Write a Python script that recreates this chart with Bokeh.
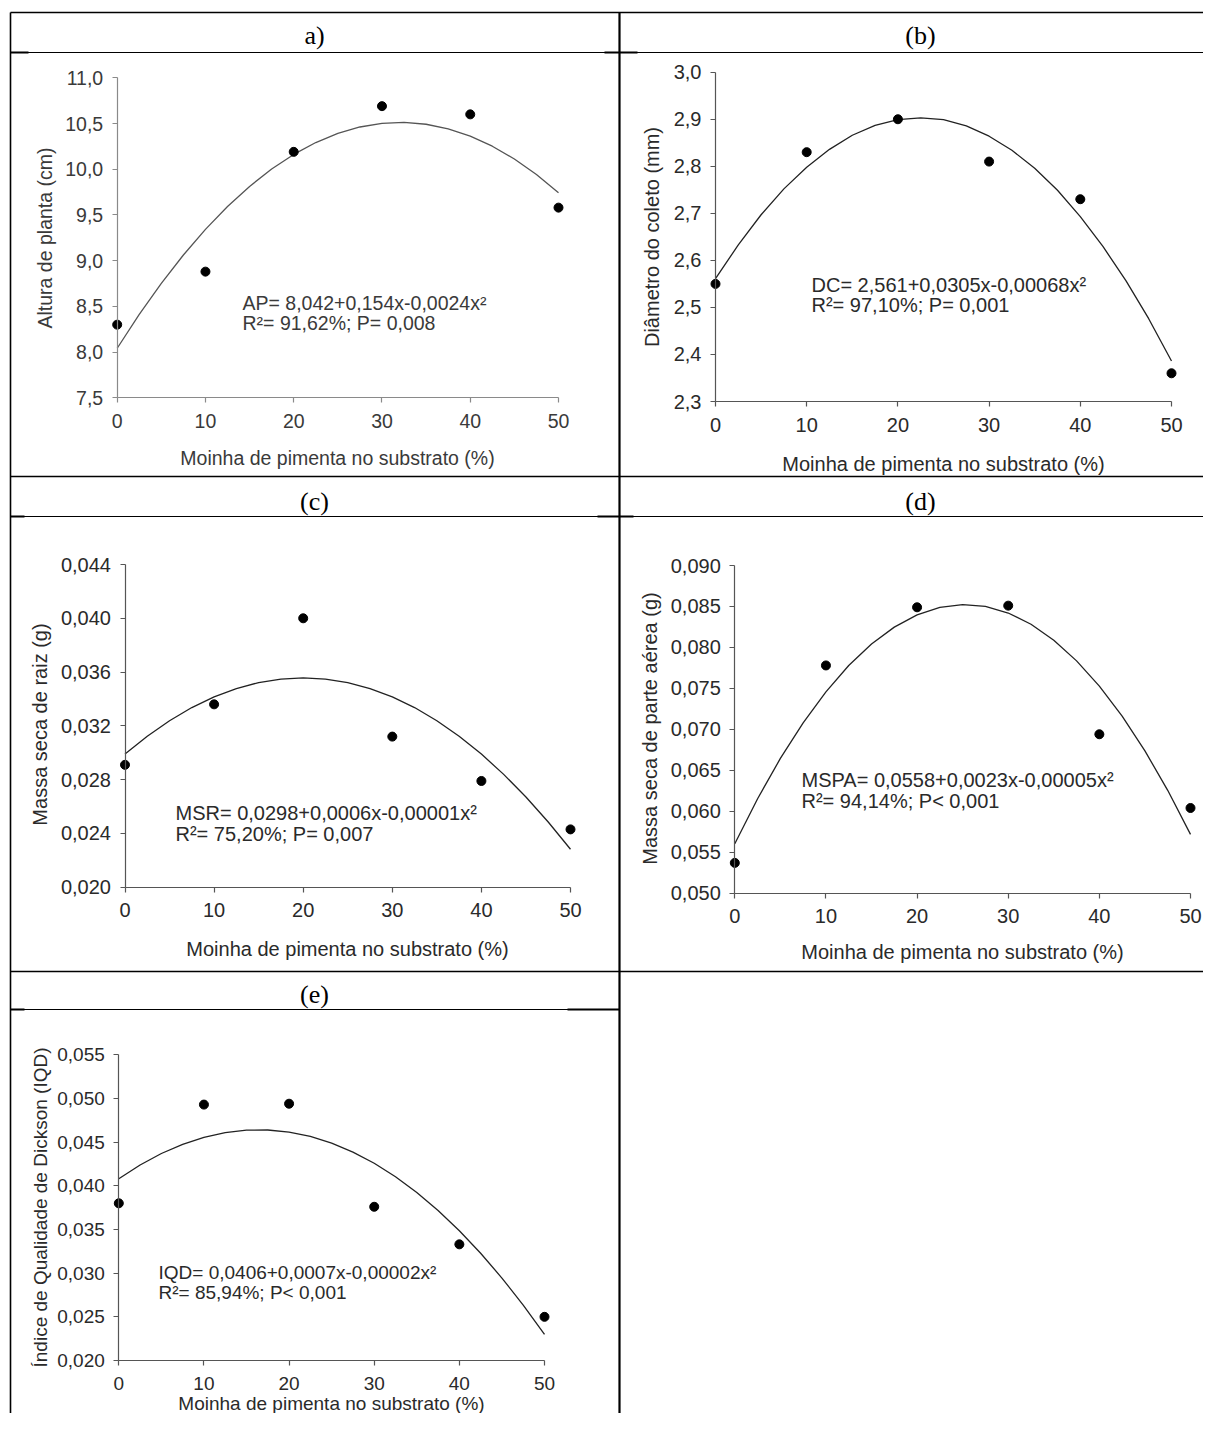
from math import pi
from bokeh.plotting import figure
from bokeh.models import Range1d, LinearAxis, FixedTicker, Label
from bokeh.embed import file_html
from bokeh.resources import INLINE

# ---------------- data ----------------
dose = [0, 10, 20, 30, 40, 50]
curve_x = [0, 2.5, 5, 7.5, 10, 12.5, 15, 17.5, 20, 22.5, 25, 27.5, 30,
           32.5, 35, 37.5, 40, 42.5, 45, 47.5, 50]
x_ticks = [0, 10, 20, 30, 40, 50]
x_tick_labels = ["0", "10", "20", "30", "40", "50"]

ap_obs = [8.30, 8.88, 10.19, 10.69, 10.60, 9.58]
ap_fit = [8.042, 8.412, 8.752, 9.062, 9.342, 9.592, 9.812, 10.002, 10.162, 10.292,
          10.392, 10.462, 10.502, 10.512, 10.492, 10.442, 10.362, 10.252, 10.112, 9.942, 9.742]
ap_ticks = [7.5, 8.0, 8.5, 9.0, 9.5, 10.0, 10.5, 11.0]
ap_tick_labels = ["7,5", "8,0", "8,5", "9,0", "9,5", "10,0", "10,5", "11,0"]

dc_obs = [2.55, 2.83, 2.90, 2.81, 2.73, 2.36]
dc_fit = [2.561, 2.633, 2.697, 2.752, 2.798, 2.836, 2.866, 2.887, 2.899, 2.903, 2.899,
          2.886, 2.864, 2.834, 2.796, 2.749, 2.693, 2.629, 2.557, 2.476, 2.386]
dc_ticks = [2.3, 2.4, 2.5, 2.6, 2.7, 2.8, 2.9, 3.0]
dc_tick_labels = ["2,3", "2,4", "2,5", "2,6", "2,7", "2,8", "2,9", "3,0"]

msr_obs = [0.0291, 0.0336, 0.0400, 0.0312, 0.0279, 0.0243]
msr_fit = [0.02990, 0.03123, 0.03238, 0.03336, 0.03415, 0.03477, 0.03522, 0.03548,
           0.03557, 0.03548, 0.03522, 0.03477, 0.03415, 0.03336, 0.03238, 0.03123,
           0.02990, 0.02839, 0.02671, 0.02485, 0.02282]
msr_ticks = [0.020, 0.024, 0.028, 0.032, 0.036, 0.040, 0.044]
msr_tick_labels = ["0,020", "0,024", "0,028", "0,032", "0,036", "0,040", "0,044"]

mspa_obs = [0.0537, 0.0778, 0.0849, 0.0851, 0.0694, 0.0604]
mspa_fit = [0.05603, 0.06153, 0.06645, 0.07080, 0.07458, 0.07779, 0.08042, 0.08248,
            0.08397, 0.08489, 0.08523, 0.08500, 0.08420, 0.08283, 0.08088, 0.07836,
            0.07527, 0.07161, 0.06737, 0.06256, 0.05718]
mspa_ticks = [0.050, 0.055, 0.060, 0.065, 0.070, 0.075, 0.080, 0.085, 0.090]
mspa_tick_labels = ["0,050", "0,055", "0,060", "0,065", "0,070", "0,075", "0,080", "0,085", "0,090"]

iqd_obs = [0.0380, 0.0493, 0.0494, 0.0376, 0.0333, 0.0250]
iqd_fit = [0.04080, 0.04238, 0.04370, 0.04475, 0.04555, 0.04609, 0.04637, 0.04639,
           0.04615, 0.04565, 0.04488, 0.04386, 0.04258, 0.04104, 0.03924, 0.03718,
           0.03486, 0.03228, 0.02944, 0.02634, 0.02299]
iqd_ticks = [0.020, 0.025, 0.030, 0.035, 0.040, 0.045, 0.050, 0.055]
iqd_tick_labels = ["0,020", "0,025", "0,030", "0,035", "0,040", "0,045", "0,050", "0,055"]

x_title = "Moinha de pimenta no substrato (%)"

# ---------------- canvas ----------------
W, H = 1203, 1413
OX, OY = 0, 0   # canvas origin in picture coordinates

p = figure(width=W, height=H, x_range=Range1d(OX, OX + W), y_range=Range1d(OY + H, OY),
           output_backend="svg", toolbar_location=None, tools="", min_border=0,
           x_axis_location=None, y_axis_location=None)
p.xgrid.visible = False
p.ygrid.visible = False
p.outline_line_color = None
p.background_fill_color = "white"
p.border_fill_color = "white"

# table rules (layout)
R = OX + W
B = OY + H
rules = [
    (10, 12, R, 12, 1.6), (10, 12, 10, B, 1.6), (619, 12, 619, B, 2.2),
    (10, 52, R, 52, 1.1), (10, 476, R, 476, 1.6), (10, 516, R, 516, 1.1),
    (10, 971, R, 971, 1.6), (10, 1009, 619, 1009, 1.1),
    (10, 52, 28, 52, 2.2), (604, 52, 637, 52, 2.2), (597, 516, 633, 516, 2.2),
    (10, 516, 24, 516, 2.2), (10, 1009, 24, 1009, 2.2), (567, 1009, 619, 1009, 2.2),
]
p.segment(x0=[r[0] for r in rules], y0=[r[1] for r in rules],
          x1=[r[2] for r in rules], y1=[r[3] for r in rules],
          line_width=[r[4] for r in rules], line_color="black")

for txt, cx, by in [("a)", 314, 35), ("(b)", 920, 35), ("(c)", 314, 501),
                    ("(d)", 920, 501), ("(e)", 314, 994)]:
    p.add_layout(Label(x=cx, y=by, text=txt, text_font="Liberation Serif",
                       text_font_size="26px", text_color="black",
                       text_align="center", text_baseline="alphabetic"))


def rng(d0, d1, q0, q1, lo, hi):
    s = (d1 - d0) / (q1 - q0)
    return Range1d(d0 + (lo - q0) * s, d0 + (hi - q0) * s)


def panel(key, obs, fit, yticks, ylabels, xpx, ypx, ytitle, ytitle_pos, xtitle_pos,
          eq, eq_pos, fs, axis_color, curve_color, text_color):
    # xpx: picture x of dose 0 and 50; ypx: picture y of first and last y tick
    xr, yr = "x" + key, "y" + key
    p.extra_x_ranges[xr] = rng(x_ticks[0], x_ticks[-1], xpx[0], xpx[1], OX, OX + W)
    p.extra_y_ranges[yr] = rng(yticks[0], yticks[-1], ypx[0], ypx[1], OY + H, OY)

    common = dict(x_range_name=xr, y_range_name=yr, axis_line_color=axis_color,
                  major_tick_line_color=axis_color, major_tick_in=0, major_tick_out=5,
                  minor_tick_line_color=None, major_label_text_font="Liberation Sans",
                  major_label_text_font_size=fs, major_label_text_color=text_color,
                  axis_line_width=1.2, major_tick_line_width=1.2)
    xa = LinearAxis(fixed_location=yticks[0], bounds=(x_ticks[0], x_ticks[-1]),
                    ticker=FixedTicker(ticks=x_ticks, minor_ticks=[]),
                    major_label_overrides=dict(zip(x_ticks, x_tick_labels)),
                    major_label_standoff=11, **common)
    ya = LinearAxis(fixed_location=x_ticks[0], bounds=(yticks[0], yticks[-1]),
                    ticker=FixedTicker(ticks=yticks, minor_ticks=[]),
                    major_label_overrides=dict(zip(yticks, ylabels)),
                    major_label_standoff=9, **common)
    p.add_layout(xa, "below")
    p.add_layout(ya, "left")

    p.line(curve_x, fit, x_range_name=xr, y_range_name=yr, line_color=curve_color, line_width=1.3)
    p.scatter(dose, obs, x_range_name=xr, y_range_name=yr, size=9, color="black")

    p.add_layout(Label(x=ytitle_pos[0], y=ytitle_pos[1], text=ytitle, angle=pi / 2,
                       text_font="Liberation Sans", text_font_size=fs, text_color=text_color,
                       text_align="center", text_baseline="middle"))
    p.add_layout(Label(x=xtitle_pos[0], y=xtitle_pos[1], text=x_title,
                       text_font="Liberation Sans", text_font_size=fs, text_color=text_color,
                       text_align="center", text_baseline="middle"))
    for i, line in enumerate(eq):
        p.add_layout(Label(x=eq_pos[0], y=eq_pos[1] + i * eq_pos[2], text=line,
                           text_font="Liberation Sans", text_font_size=fs, text_color=text_color,
                           text_align="left", text_baseline="middle"))


panel("a", ap_obs, ap_fit, ap_ticks, ap_tick_labels, (116.7, 558), (397.3, 77.3),
      "Altura de planta (cm)", (44, 237.5), (337, 457),
      ["AP= 8,042+0,154x-0,0024x²", "R²= 91,62%; P= 0,008"], (242, 302, 20),
      "19.5px", "#8a8a8a", "#555555", "#3a3a3a")
panel("b", dc_obs, dc_fit, dc_ticks, dc_tick_labels, (715, 1171), (401, 71.7),
      "Diâmetro do coleto (mm)", (651.7, 236.5), (943, 463),
      ["DC= 2,561+0,0305x-0,00068x²", "R²= 97,10%; P= 0,001"], (811, 284, 20),
      "20px", "#555555", "#222222", "#2a2a2a")
panel("c", msr_obs, msr_fit, msr_ticks, msr_tick_labels, (124.5, 570), (886.7, 564),
      "Massa seca de raiz (g)", (39.5, 724), (347, 948),
      ["MSR= 0,0298+0,0006x-0,00001x²", "R²= 75,20%; P= 0,007"], (175, 812, 21.5),
      "20px", "#555555", "#222222", "#2a2a2a")
panel("d", mspa_obs, mspa_fit, mspa_ticks, mspa_tick_labels, (734.3, 1190), (892.7, 565),
      "Massa seca de parte aérea (g)", (649, 728), (962, 951.5),
      ["MSPA= 0,0558+0,0023x-0,00005x²", "R²= 94,14%; P< 0,001"], (801, 779, 21.5),
      "20px", "#555555", "#222222", "#2a2a2a")
panel("e", iqd_obs, iqd_fit, iqd_ticks, iqd_tick_labels, (118.3, 544), (1360, 1054.3),
      "Índice de Qualidade de Dickson (IQD)", (39.5, 1207), (331, 1403),
      ["IQD= 0,0406+0,0007x-0,00002x²", "R²= 85,94%; P< 0,001"], (158, 1271.5, 20.5),
      "19px", "#555555", "#222222", "#2a2a2a")

open("out.html", "w").write(file_html(p, INLINE))
